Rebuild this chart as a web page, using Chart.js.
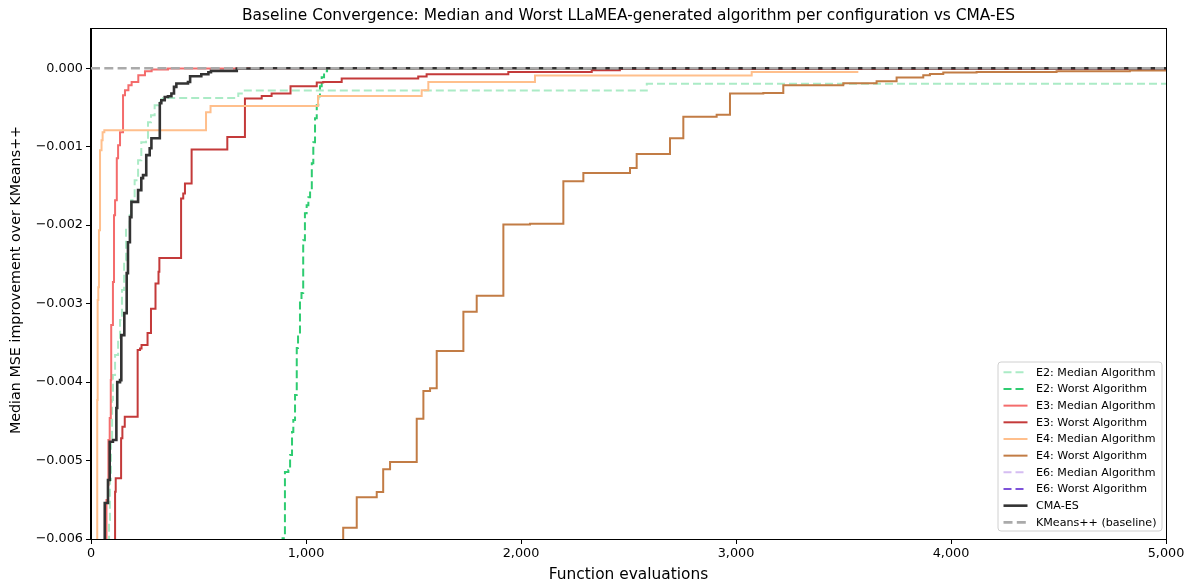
<!DOCTYPE html>
<html>
<head>
<meta charset="utf-8">
<script src="https://cdn.jsdelivr.net/npm/chart.js@4.4.1/dist/chart.umd.min.js"></script>
<style>
  html, body { margin: 0; padding: 0; background: #fff; }
  #wrap { width: 1195px; height: 584px; position: relative; }
</style>
</head>
<body>
<div id="wrap"><canvas id="chart"></canvas></div>
<script>
// Axis ticks
const xTicks = [0, 1000, 2000, 3000, 4000, 5000];
const yTicks = [-0.006, -0.005, -0.004, -0.003, -0.002, -0.001, 0];

// Best-so-far improvement traces (function evaluations, improvement)
const e2MedianEvals = [79, 84, 88, 93, 98, 102, 112, 126, 135, 144, 154, 163, 180, 187, 203, 219, 234, 256, 265, 279, 296, 312, 327, 335, 685, 708, 2585, 5000];
const e2MedianVals  = [-0.0062, -0.005758, -0.005248, -0.004739, -0.004229, -0.003911, -0.003656, -0.003465, -0.003210, -0.002828, -0.002446, -0.002038, -0.001873, -0.001682, -0.001427, -0.001172, -0.000943, -0.000917, -0.000688, -0.000599, -0.000471, -0.000429, -0.000395, -0.000378, -0.000322, -0.000284, -0.000197, -0.000197];

const e2WorstEvals = [885, 891, 902, 918, 926, 935, 941, 949, 957, 963, 972, 979, 987, 995, 1003, 1011, 1019, 1027, 1034, 1042, 1050, 1057, 1065, 1073, 1084, 1098, 5000];
const e2WorstVals  = [-0.0062, -0.005990, -0.005147, -0.005121, -0.004930, -0.004637, -0.004484, -0.004166, -0.003567, -0.003401, -0.002955, -0.002866, -0.002191, -0.001847, -0.001745, -0.001643, -0.001554, -0.001210, -0.000943, -0.000637, -0.000471, -0.000357, -0.000229, -0.000115, -0.000038, 0, 0];

const e3MedianEvals = [68, 72, 79, 81, 87, 92, 94, 102, 107, 112, 120, 126, 135, 149, 158, 174, 189, 220, 251, 282, 358, 693, 5000];
const e3MedianVals  = [-0.0062, -0.005503, -0.005312, -0.004739, -0.004459, -0.003975, -0.003274, -0.002726, -0.001873, -0.001682, -0.001146, -0.000981, -0.000815, -0.000344, -0.000280, -0.000217, -0.000175, -0.000089, -0.000038, -0.000017, -0.000004, 0, 0];

const e3WorstEvals = [108, 112, 115, 140, 146, 157, 217, 228, 235, 263, 279, 300, 314, 318, 419, 429, 437, 468, 634, 716, 794, 840, 928, 1050, 1080, 1166, 1522, 1561, 1941, 2329, 2460, 5000];
const e3WorstVals  = [-0.0062, -0.005397, -0.005227, -0.004717, -0.004570, -0.004442, -0.003592, -0.003571, -0.003529, -0.003376, -0.003066, -0.002743, -0.002595, -0.002420, -0.001660, -0.001596, -0.001469, -0.001036, -0.000875, -0.000386, -0.000353, -0.000322, -0.000229, -0.000182, -0.000175, -0.000131, -0.000106, -0.000076, -0.000047, -0.000025, -0.000009, -0.000009];

const e4MedianEvals = [24, 29, 31, 34, 37, 42, 49, 54, 62, 535, 556, 1056, 1538, 1569, 2065, 3073, 3569];
const e4MedianVals  = [-0.0062, -0.004229, -0.002955, -0.002790, -0.002064, -0.001045, -0.000917, -0.000815, -0.000790, -0.000561, -0.000480, -0.000353, -0.000280, -0.000175, -0.000093, -0.000047, -0.000047];

const e4WorstEvals = [1165, 1173, 1236, 1329, 1359, 1391, 1515, 1546, 1577, 1608, 1732, 1794, 1918, 2042, 2197, 2290, 2507, 2538, 2693, 2755, 2910, 2972, 3127, 3220, 3499, 3654, 3747, 3871, 3902, 3964, 4119, 4491, 4832, 5000];
const e4WorstVals  = [-0.0062, -0.005856, -0.005469, -0.005401, -0.005112, -0.005019, -0.004468, -0.004115, -0.004080, -0.003605, -0.003104, -0.002901, -0.001991, -0.001983, -0.001440, -0.001334, -0.001270, -0.001092, -0.000892, -0.000618, -0.000592, -0.000322, -0.000315, -0.000217, -0.000191, -0.000166, -0.000118, -0.000089, -0.000073, -0.000055, -0.000047, -0.000038, -0.000029, -0.000029];

// E6 traces stay below the plotted window
const e6MedianEvals = [];
const e6MedianVals  = [];
const e6WorstEvals = [];
const e6WorstVals  = [];

const cmaEvals = [58, 64, 79, 87, 102, 118, 122, 135, 141, 155, 166, 172, 181, 188, 219, 234, 242, 257, 273, 281, 320, 327, 343, 358, 374, 386, 397, 451, 461, 513, 546, 558, 678, 786, 5000];
const cmaVals  = [-0.0062, -0.005541, -0.005248, -0.004761, -0.004739, -0.004331, -0.004000, -0.003975, -0.003401, -0.003121, -0.002611, -0.002217, -0.001898, -0.001703, -0.001554, -0.001401, -0.001363, -0.001108, -0.001019, -0.000892, -0.000446, -0.000408, -0.000366, -0.000357, -0.000322, -0.000238, -0.000195, -0.000175, -0.000102, -0.000076, -0.000051, -0.000034, -0.000004, 0, 0];

const baselineEvals = [0, 5000];
const baselineVals  = [0, 0];

const pts = (xs, ys) => xs.map((x, i) => ({ x: x, y: ys[i] }));

const seriesDefs = [
  { label: 'E2: Median Algorithm', xs: e2MedianEvals, ys: e2MedianVals, color: '#abebc6', width: 2, dash: [8, 4] },
  { label: 'E2: Worst Algorithm',  xs: e2WorstEvals,  ys: e2WorstVals,  color: '#2ecc71', width: 2, dash: [8, 4] },
  { label: 'E3: Median Algorithm', xs: e3MedianEvals, ys: e3MedianVals, color: '#f46c6c', width: 2, dash: [] },
  { label: 'E3: Worst Algorithm',  xs: e3WorstEvals,  ys: e3WorstVals,  color: '#c43a3a', width: 2, dash: [] },
  { label: 'E4: Median Algorithm', xs: e4MedianEvals, ys: e4MedianVals, color: '#ffbf8c', width: 2, dash: [] },
  { label: 'E4: Worst Algorithm',  xs: e4WorstEvals,  ys: e4WorstVals,  color: '#c27c45', width: 2, dash: [] },
  { label: 'E6: Median Algorithm', xs: e6MedianEvals, ys: e6MedianVals, color: '#d5bdf2', width: 2, dash: [8, 4] },
  { label: 'E6: Worst Algorithm',  xs: e6WorstEvals,  ys: e6WorstVals,  color: '#7d52d9', width: 2, dash: [8, 4] },
  { label: 'CMA-ES',               xs: cmaEvals,      ys: cmaVals,      color: '#333333', width: 2.6, dash: [] },
  { label: 'KMeans++ (baseline)',  xs: baselineEvals, ys: baselineVals, color: '#aaaaaa', width: 2.6, dash: [9, 4.3], plain: true }
];

const datasets = seriesDefs.map((s, i) => ({
  label: s.label,
  data: pts(s.xs, s.ys),
  borderColor: s.color,
  backgroundColor: s.color,
  borderWidth: s.width,
  borderDash: s.dash,
  borderCapStyle: 'butt',
  borderJoinStyle: 'miter',
  stepped: s.plain ? false : 'before',
  pointRadius: 0,
  pointHoverRadius: 0,
  fill: false,
  clip: 0,
  order: seriesDefs.length - i
}));

const FONT = "'DejaVu Sans', sans-serif";

// Frame, title, axis titles and legend box
const decorPlugin = {
  id: 'decor',
  afterDraw(chart) {
    const ctx = chart.ctx;
    const a = chart.chartArea;
    ctx.save();
    // frame
    ctx.strokeStyle = '#000';
    ctx.lineWidth = 1;
    ctx.strokeRect(Math.round(a.left) - 0.5, Math.round(a.top) - 0.5, Math.round(a.right - a.left) + 1, Math.round(a.bottom - a.top) + 1);

    // title
    ctx.fillStyle = '#000';
    ctx.font = '15.4px ' + FONT;
    ctx.textAlign = 'center';
    ctx.textBaseline = 'middle';
    ctx.fillText('Baseline Convergence: Median and Worst LLaMEA-generated algorithm per configuration vs CMA-ES', (a.left + a.right) / 2, 16);

    // x title
    ctx.fillText('Function evaluations', (a.left + a.right) / 2, 575);

    // y title
    ctx.save();
    ctx.font = '14.3px ' + FONT;
    ctx.translate(16, 280);
    ctx.rotate(-Math.PI / 2);
    ctx.fillText('Median MSE improvement over KMeans++', 0, 0);
    ctx.restore();

    // legend
    const bx = 998, by = 362, bw = 164, bh = 169, r = 3;
    ctx.beginPath();
    ctx.moveTo(bx + r, by);
    ctx.lineTo(bx + bw - r, by);
    ctx.quadraticCurveTo(bx + bw, by, bx + bw, by + r);
    ctx.lineTo(bx + bw, by + bh - r);
    ctx.quadraticCurveTo(bx + bw, by + bh, bx + bw - r, by + bh);
    ctx.lineTo(bx + r, by + bh);
    ctx.quadraticCurveTo(bx, by + bh, bx, by + bh - r);
    ctx.lineTo(bx, by + r);
    ctx.quadraticCurveTo(bx, by, bx + r, by);
    ctx.closePath();
    ctx.fillStyle = 'rgba(255,255,255,0.8)';
    ctx.fill();
    ctx.strokeStyle = '#d0d0d0';
    ctx.lineWidth = 1;
    ctx.stroke();

    ctx.font = '11.1px ' + FONT;
    ctx.textAlign = 'left';
    ctx.textBaseline = 'middle';
    chart.data.datasets.forEach((ds, i) => {
      const y = 372.3 + i * 16.67;
      ctx.beginPath();
      ctx.setLineDash(ds.borderDash || []);
      ctx.lineDashOffset = 0;
      ctx.strokeStyle = ds.borderColor;
      ctx.lineWidth = ds.borderWidth;
      ctx.moveTo(1003.5, y);
      ctx.lineTo(1027.5, y);
      ctx.stroke();
      ctx.setLineDash([]);
      ctx.fillStyle = '#000';
      ctx.fillText(ds.label, 1036, y + 0.5);
    });
    ctx.restore();
  }
};

const fmtY = v => {
  if (Math.abs(v) < 1e-12) return '0.000';
  return (v < 0 ? '\u2212' : '') + Math.abs(v).toFixed(3);
};

new Chart(document.getElementById('chart'), {
  type: 'line',
  data: { datasets: datasets },
  options: {
    responsive: true,
    maintainAspectRatio: false,
    animation: false,
    devicePixelRatio: 1,
    events: [],
    layout: { padding: { top: 29, right: 29, left: 0, bottom: 0 } },
    plugins: {
      legend: { display: false },
      title: { display: false },
      tooltip: { enabled: false }
    },
    scales: {
      x: {
        type: 'linear',
        min: 0,
        max: 5000,
        afterBuildTicks: s => { s.ticks = xTicks.map(v => ({ value: v })); },
        afterFit: s => { s.height = 45; },
        ticks: {
          callback: v => Number(v).toLocaleString('en-US'),
          color: '#000',
          font: { family: FONT, size: 12.8 },
          padding: 2,
          maxRotation: 0,
          autoSkip: false
        },
        grid: { drawOnChartArea: false, drawTicks: true, tickLength: 5, tickColor: '#000', tickWidth: 1 },
        border: { display: true, color: '#000', width: 1 }
      },
      y: {
        type: 'linear',
        min: -0.006,
        max: 0.0005,
        afterBuildTicks: s => { s.ticks = yTicks.map(v => ({ value: v })); },
        afterFit: s => { s.width = 91; },
        ticks: {
          callback: v => fmtY(v),
          color: '#000',
          font: { family: FONT, size: 12.8 },
          padding: 3,
          autoSkip: false
        },
        grid: { drawOnChartArea: false, drawTicks: true, tickLength: 5, tickColor: '#000', tickWidth: 1 },
        border: { display: true, color: '#000', width: 1 }
      }
    }
  },
  plugins: [decorPlugin]
});
</script>
</body>
</html>
